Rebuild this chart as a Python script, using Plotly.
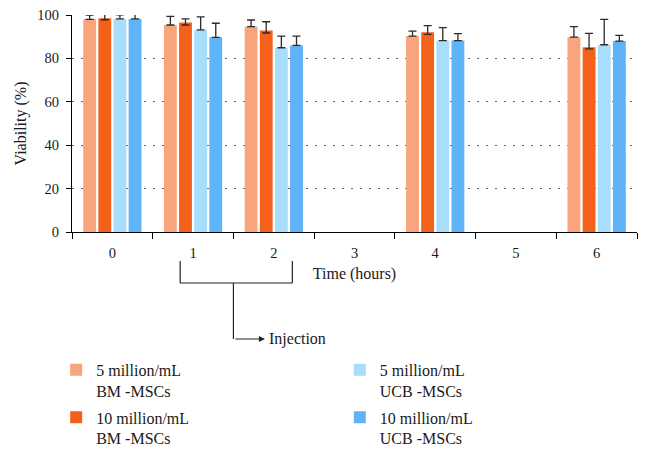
import plotly.graph_objects as go

# viability (%) of MSCs over time, mean with upper error
hours = ["0", "1", "2", "3", "4", "5", "6"]

bm5 = [98.0, 95.4, 94.6, None, 90.3, None, 89.8]
bm5_err = [2.0, 4.0, 3.1, None, 2.3, None, 4.8]
bm10 = [98.5, 96.6, 92.9, None, 92.0, None, 85.1]
bm10_err = [2.4, 1.6, 4.0, None, 3.1, None, 6.4]
bm10_err_low = [0.7, 1.2, 1.2, None, 0.9, None, 0.7]
ucb5 = [98.2, 93.1, 84.9, None, 88.2, None, 86.3]
ucb5_err = [1.9, 6.0, 5.4, None, 6.0, None, 11.7]
ucb10 = [98.2, 89.7, 86.0, None, 88.2, None, 88.0]
ucb10_err = [2.1, 6.5, 4.3, None, 3.2, None, 2.6]

y_ticks = [0, 20, 40, 60, 80, 100]

FONT = "Liberation Serif, Times New Roman, serif"
ERR = "#2b2b2b"

series = [
    ("5 million/mL<br>BM -MSCs", bm5, bm5_err, None, "#F8A47D", "legend", 1),
    ("10 million/mL<br>BM -MSCs", bm10, bm10_err, bm10_err_low, "#F4611A", "legend", 2),
    ("5 million/mL<br>UCB -MSCs", ucb5, ucb5_err, None, "#A8DDFB", "legend2", 1),
    ("10 million/mL<br>UCB -MSCs", ucb10, ucb10_err, None, "#5FB3F8", "legend2", 2),
]

fig = go.Figure()
for name, vals, err, err_low, color, leg, rank in series:
    fig.add_trace(go.Bar(
        x=hours, y=vals, name=name,
        marker=dict(color=color, line_width=0),
        error_y=dict(
            type="data", array=err, symmetric=False,
            arrayminus=err_low if err_low else [0] * len(err),
            color=ERR, thickness=1.3, width=4,
        ),
        legend=leg, legendrank=rank, legendgroup=name,
    ))

legend_style = dict(
    y=-0.557, xanchor="left", yanchor="top",
    orientation="v", valign="top", tracegroupgap=3,
    font=dict(size=16), bgcolor="rgba(0,0,0,0)",
)

# the page body adds an 8px offset, so the figure is 8px smaller than the window
fig.update_layout(
    width=640, height=443,
    margin=dict(l=64, r=11, t=7, b=219, autoexpand=False),
    paper_bgcolor="white", plot_bgcolor="white",
    font=dict(family=FONT, size=16, color="#1a1a1a"),
    barmode="group", bargap=0.25, bargroupgap=0.15,
    showlegend=True,
    legend=dict(x=-0.028, **legend_style),
    legend2=dict(x=0.474, **legend_style),
)

fig.update_xaxes(
    type="category", categoryorder="array", categoryarray=hours,
    range=[-0.5, 6.5], tickson="boundaries", automargin=False,
    showline=True, linecolor="black", linewidth=1.2,
    ticks="outside", ticklen=6, tickcolor="black", ticklabelstandoff=7,
    showgrid=False, tickfont=dict(size=14.5),
    title=dict(text="Time (hours)", font=dict(size=16), standoff=8),
)
fig.update_yaxes(
    range=[0, 100], tickvals=y_ticks, automargin=False,
    showline=True, linecolor="black", linewidth=1.2,
    ticks="outside", ticklen=5, tickcolor="black", ticklabelstandoff=4,
    ticklabeloverflow="allow",
    showgrid=True, gridcolor="#666666", griddash="2px,7px", gridwidth=1,
    zeroline=False, tickfont=dict(size=14.5),
    title=dict(text="Viability (%)", font=dict(size=16), standoff=6),
)

# injection bracket under hours 1-2
line = dict(color="#222222", width=1.2)
bx0, bx1, bmid = 0.84, 2.23, 1.5
ytop, ybot, yarr = -0.134, -0.235, -0.493
fig.add_shape(type="line", xref="x", yref="paper", x0=bx0, x1=bx0, y0=ytop, y1=ybot, line=line)
fig.add_shape(type="line", xref="x", yref="paper", x0=bx1, x1=bx1, y0=ytop, y1=ybot, line=line)
fig.add_shape(type="line", xref="x", yref="paper", x0=bx0, x1=bx1, y0=ybot, y1=ybot, line=line)
fig.add_shape(type="line", xref="x", yref="paper", x0=bmid, x1=bmid, y0=ybot, y1=yarr, line=line)
fig.add_annotation(
    x=1.89, y=yarr, xref="x", yref="paper", ax=-31, ay=0,
    showarrow=True, arrowhead=2, arrowsize=1, arrowwidth=1.2, arrowcolor="#222222", text="",
)
fig.add_annotation(
    x=1.91, y=yarr, xref="x", yref="paper", xanchor="left", yanchor="middle",
    text="Injection", showarrow=False, font=dict(size=16),
)

fig.write_html("out.html")
